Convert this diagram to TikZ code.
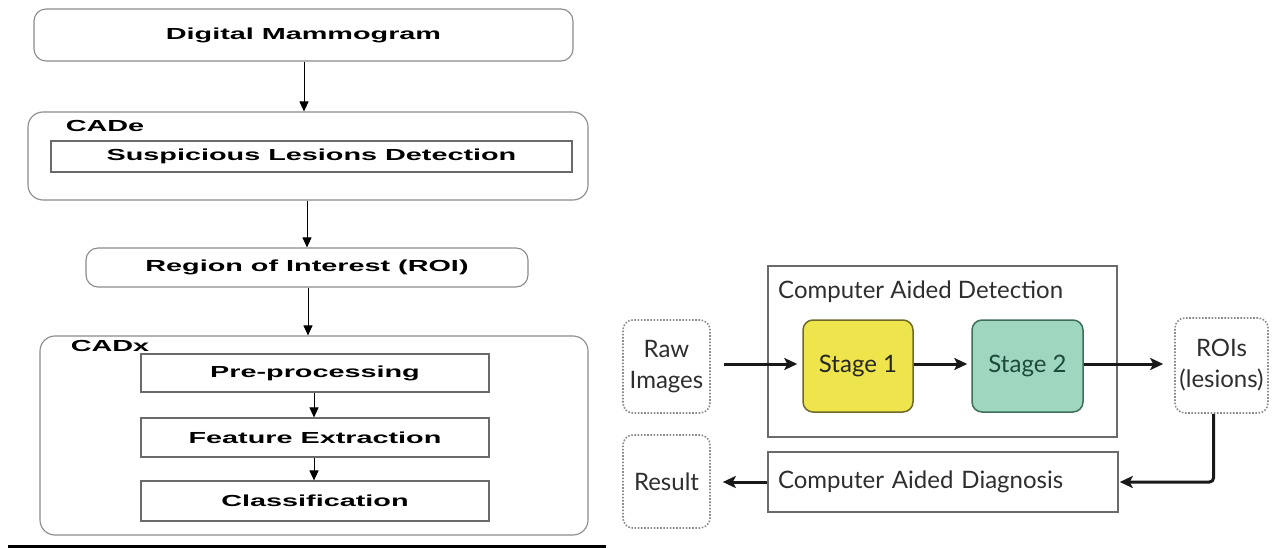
\documentclass[tikz,border=0pt]{standalone}
\usepackage{fontspec}
\newfontfamily\lfont[FakeStretch=1.8]{Liberation Sans}
\newfontfamily\rfont{Lato}
\usetikzlibrary{arrows.meta}
\definecolor{lgray}{HTML}{8A8A8A}
\definecolor{rgray}{HTML}{6A6A6A}
\definecolor{txtgray}{HTML}{2E2E2E}
\definecolor{yel}{HTML}{EEE54C}
\definecolor{yelb}{HTML}{6E6A2C}
\definecolor{mint}{HTML}{9FD6BF}
\definecolor{mintb}{HTML}{3F6E5A}
\definecolor{minttxt}{HTML}{1E4A3B}
\begin{document}
\begin{tikzpicture}[x=1pt,y=-1pt,
  ltext/.style={font=\lfont\bfseries\fontsize{16}{19}\selectfont, text=black},
  rbox/.style={draw=lgray, line width=1.1pt, rounded corners=12pt, inner sep=0pt, ltext},
  sbox/.style={draw=rgray, line width=1.1pt, inner sep=0pt, ltext},
  larrow/.style={draw=black, line width=1pt, -{Triangle[length=10pt,width=9pt]}},
  rtext/.style={font=\rfont\fontsize{24}{31}\selectfont, text=txtgray},
  dbox/.style={draw=lgray, line width=1.6pt, dash pattern=on 1.6pt off 1.6pt, rounded corners=10pt, inner sep=0pt, align=center, rtext},
  pbox/.style={draw=rgray, line width=1.5pt, inner sep=0pt, rtext},
  stagebox/.style={line width=1.5pt, rounded corners=10pt, inner sep=0pt, rtext},
  rarrow/.style={draw=black!90, line width=3pt, -{Stealth[length=13pt,width=12pt,inset=3pt]}}
]
\useasboundingbox (0,0) rectangle (1277,548);

% ---------------- left panel ----------------
\node[rbox, minimum width=539pt, minimum height=52pt] (dm) at (303.5,35) {Digital Mammogram};
\node[rbox, rounded corners=15pt, minimum width=560pt, minimum height=88pt] (cade) at (308,156) {};
\node[ltext] (cadelbl) at (105,126) {CADe};
\node[sbox, minimum width=521pt, minimum height=31pt] (sld) at (311.5,156.5) {Suspicious Lesions Detection};
\node[rbox, minimum width=442pt, minimum height=39pt] (roi) at (307,267.5) {Region of Interest (ROI)};
\node[rbox, rounded corners=15pt, minimum width=548pt, minimum height=199pt] (cadx) at (314,435.5) {};
\node[ltext] (cadxlbl) at (110,346) {CADx};
\node[sbox, minimum width=348pt, minimum height=38pt] (pre) at (315,373) {Pre-processing};
\node[sbox, minimum width=348pt, minimum height=39pt] (fe) at (315,437.5) {Feature Extraction};
\node[sbox, minimum width=348pt, minimum height=40pt] (cls) at (315,501) {Classification};

\draw[larrow] ([xshift=0.5pt]dm.south) -- ([xshift=0.5pt]dm.south |- cade.north);
\draw[larrow] (roi.north |- cade.south) -- (roi.north);
\draw[larrow] ([xshift=1pt]roi.south) -- ([xshift=1pt]roi.south |- cadx.north);
\draw[larrow] ([xshift=-1pt]pre.south) -- ([xshift=-1pt]fe.north);
\draw[larrow] ([xshift=-1pt]fe.south) -- ([xshift=-1pt]cls.north);

\draw[line width=3pt, black] (8,546) -- (606,546);

% ---------------- right panel ----------------
\node[pbox, minimum width=349pt, minimum height=171pt] (cad) at (942.5,351.5) {};
\node[rtext, anchor=base west, inner sep=0pt] (cadlbl) at (778,298) {Computer Aided Detection};
\node[dbox, minimum width=87pt, minimum height=93pt] (raw) at (666.5,366.5) {Raw\\Images};
\node[stagebox, draw=yelb, fill=yel, text=black!85, minimum width=110pt, minimum height=92pt] (s1) at (858,366) {Stage 1};
\node[stagebox, draw=mintb, fill=mint, text=minttxt, minimum width=111pt, minimum height=92pt] (s2) at (1027.5,366) {Stage 2};
\node[dbox, minimum width=93pt, minimum height=95pt] (rois) at (1221.5,365.5) {ROIs\\(lesions)};
\node[pbox, align=left, text width=330pt, inner xsep=10pt, minimum height=60pt] (diag) at (943,482) {Computer Aided Diagnosis};
\node[dbox, minimum width=87pt, minimum height=93pt] (res) at (666.5,481.5) {Result};

\draw[rarrow, shorten <=13pt, shorten >=5pt] (raw.east |- 0,364) -- (s1.west |- 0,364);
\draw[rarrow, shorten >=4pt] (s1.east |- 0,364) -- (s2.west |- 0,364);
\draw[rarrow, shorten >=11pt] (s2.east |- 0,364) -- (rois.west |- 0,364);
\draw[rarrow, rounded corners=4pt, shorten >=1pt] ([xshift=-8pt]rois.south) -- ([xshift=-8pt]rois.south |- diag.east) -- (diag.east);
\draw[rarrow, shorten >=12pt] (diag.west) -- (res.east |- diag.west);
\end{tikzpicture}
\end{document}
